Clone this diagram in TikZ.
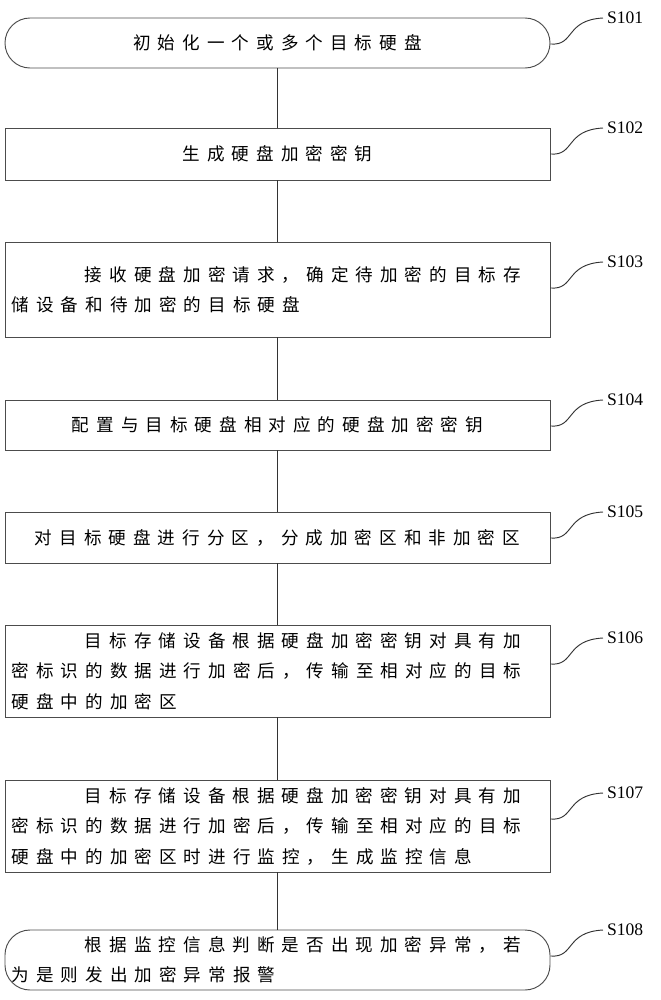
\documentclass[tikz,border=0pt]{standalone}
\usepackage{fontspec}
\setmainfont{Liberation Serif}
\newfontfamily\cjk[LetterSpace=40]{Noto Sans CJK SC}
\begin{document}
\begin{tikzpicture}[
    x=0.03cm, y=-0.03cm,
    stepbox/.style={
        rectangle,
        draw=black!70,
        thick,
        minimum width=16.35cm,
        font=\cjk\fontsize{15}{26}\selectfont,
        inner sep=0pt
    },
    endbox/.style={
        stepbox,
        rounded corners=0.75cm
    },
    txt/.style={
        text width=15.95cm,
        align=left
    },
    tag/.style={
        font=\fontsize{15}{18}\selectfont
    },
    squig/.style={
        thick,
        color=black!80
    }
]
\useasboundingbox (0,0) rectangle (660,1000);

% Steps
\node[endbox, minimum height=1.5cm] (s1) at (277.5,43) {初始化一个或多个目标硬盘};
\node[stepbox, minimum height=1.56cm] (s2) at (277.5,154) {生成硬盘加密密钥};
\node[stepbox, minimum height=2.85cm, txt] (s3) at (277.5,289.5) {
    \hspace*{2.2cm}接收硬盘加密请求，确定待加密的目标存\\
    储设备和待加密的目标硬盘};
\node[stepbox, minimum height=1.5cm] (s4) at (277.5,425) {配置与目标硬盘相对应的硬盘加密密钥};
\node[stepbox, minimum height=1.53cm] (s5) at (277.5,537.5) {对目标硬盘进行分区，分成加密区和非加密区};
\node[stepbox, minimum height=2.76cm, txt] (s6) at (277.5,671) {
    \hspace*{2.2cm}目标存储设备根据硬盘加密密钥对具有加\\
    密标识的数据进行加密后，传输至相对应的目标\\
    硬盘中的加密区};
\node[stepbox, minimum height=2.76cm, txt] (s7) at (277.5,826) {
    \hspace*{2.2cm}目标存储设备根据硬盘加密密钥对具有加\\
    密标识的数据进行加密后，传输至相对应的目标\\
    硬盘中的加密区时进行监控，生成监控信息};
\node[endbox, minimum height=1.8cm, txt] (s8) at (277.5,960) {
    \hspace*{2.2cm}根据监控信息判断是否出现加密异常，若\\
    为是则发出加密异常报警};

% Links
\foreach \a/\b in {s1/s2,s2/s3,s3/s4,s4/s5,s5/s6,s6/s7,s7/s8}
    \draw[thick, black!80] (\a) -- (\b);

% Tags
\foreach \s/\y [count=\i] in {s1/18,s2/128,s3/262,s4/400,s5/512,s6/638,s7/793,s8/930} {
    \node[tag, anchor=west] (t\i) at (603,\y) {S10\i};
    \draw[squig] (\s.east |- 0,\y+26) .. controls (575,\y+28) and (565,\y+2) .. (t\i.west);
}
\end{tikzpicture}
\end{document}
